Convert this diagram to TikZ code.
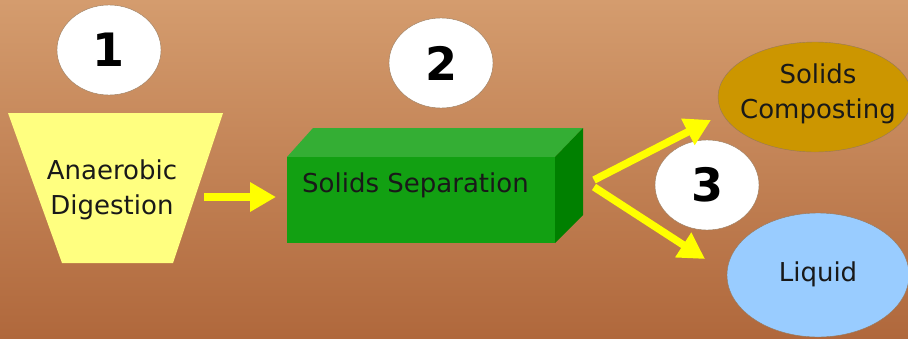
\documentclass[tikz,border=0pt]{standalone}
\usepackage{fontspec}
\setmainfont{DejaVu Sans}
\usetikzlibrary{shapes.geometric,arrows.meta}
\definecolor{bgtop}{RGB}{212,156,110}
\definecolor{bgbot}{RGB}{176,104,60}
\definecolor{digest}{RGB}{255,255,128}
\definecolor{flow}{RGB}{255,255,0}
\definecolor{boxfront}{RGB}{18,160,18}
\definecolor{boxtop}{RGB}{52,174,52}
\definecolor{boxside}{RGB}{0,128,0}
\definecolor{compost}{RGB}{204,150,0}
\definecolor{liquid}{RGB}{153,204,255}
\definecolor{rim}{RGB}{150,120,90}
\tikzset{
  numbubble/.style={ellipse, fill=white, draw=rim, line width=0.4pt,
    minimum width=104pt, minimum height=90pt, inner sep=0pt,
    font=\fontsize{46}{46}\selectfont\bfseries},
  label26/.style={font=\fontsize{26}{35}\selectfont, text=black!90, align=center, inner sep=0pt},
  flowarrow/.style={draw=flow, line width=7.5pt,
    -{Triangle[length=26pt,width=28pt]}},
}
\begin{document}
\begin{tikzpicture}[x=1pt,y=-1pt]
  % background
  \shade[top color=bgtop, bottom color=bgbot] (0,0) rectangle (908,338);
  \useasboundingbox (0,0) rectangle (908,338);

  % step numbers
  \node[numbubble] (n1) at (109,50) {1};
  \node[numbubble] (n2) at (441,63) {2};

  % anaerobic digester (funnel)
  \fill[digest] (8,113) -- (223,113) -- (173,263) -- (62,263) -- cycle;
  \node[label26] (ad) at (112,190) {Anaerobic\\Digestion};

  % solids separation block
  \fill[boxtop] (287,157) -- (313,128) -- (583,128) -- (555,157) -- cycle;
  \fill[boxside] (555,157) -- (583,128) -- (583,215) -- (555,243) -- cycle;
  \fill[boxfront] (287,157) rectangle (555,243);
  \node[label26, anchor=west] (sep) at (302,185) {Solids Separation};

  % outputs
  \node[ellipse, fill=compost, draw=rim, line width=0.4pt,
        minimum width=194pt, minimum height=110pt, inner sep=0pt] (comp) at (815,97) {};
  \node[label26] (comptext) at (818,94) {Solids\\Composting};
  \node[ellipse, fill=liquid, draw=rim, line width=0.4pt,
        minimum width=182pt, minimum height=124pt, inner sep=0pt] (liq) at (818,275) {};
  \node[label26] (liqtext) at (818,274) {Liquid};

  \node[numbubble] (n3) at (707,185) {3};

  % flow arrows
  \coordinate (a1s) at (204,197);
  \coordinate (a1e) at (276,197);
  \draw[flowarrow] (a1s) -- (a1e);
  \coordinate (fork1) at (594,180);
  \coordinate (fork2) at (594,187);
  \coordinate (upend) at (711,120);
  \coordinate (downend) at (705,259);
  \draw[flowarrow] (fork1) -- (upend);
  \draw[flowarrow] (fork2) -- (downend);
\end{tikzpicture}
\end{document}
